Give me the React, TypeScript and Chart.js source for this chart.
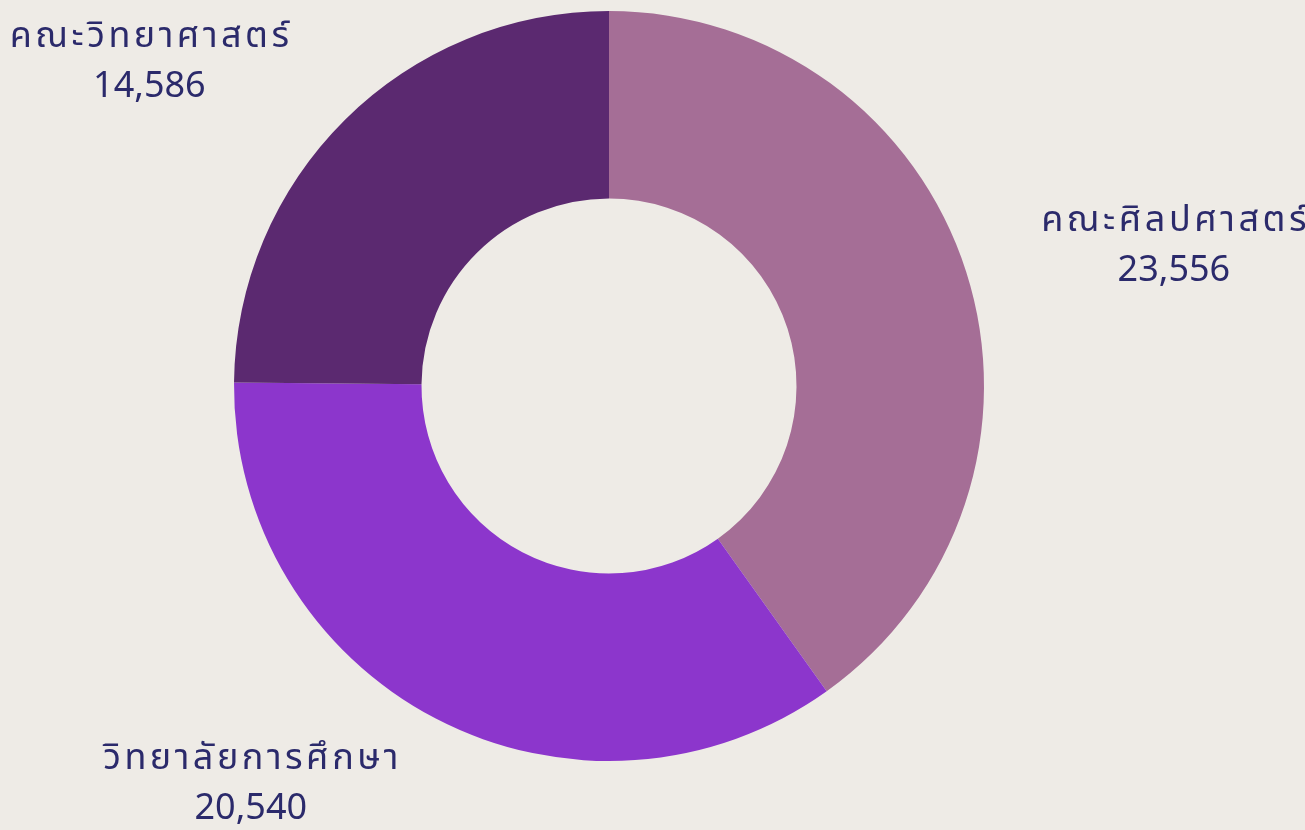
import React, { useEffect, useRef } from "react";
import { Chart, registerables } from "chart.js";

Chart.register(...registerables);

const categories = ["คณะศิลปศาสตร์", "วิทยาลัยการศึกษา", "คณะวิทยาศาสตร์"];
const values = [23556, 20540, 14586];
const colors = ["#A56E96", "#8C36CC", "#5B2970"];

const labelPlugin = {
  id: "outerLabels",
  afterDatasetsDraw(chart: any) {
    const { ctx } = chart;
    const meta = chart.getDatasetMeta(0);
    ctx.save();
    ctx.font = '36px "Noto Sans Thai", "Noto Sans", sans-serif';
    ctx.fillStyle = "#2B2A6B";
    ctx.textBaseline = "middle";
    ctx.textAlign = "center";
    meta.data.forEach((arc: any, i: number) => {
      const p = arc.getProps(["x", "y", "startAngle", "endAngle", "outerRadius"], true);
      const mid = (p.startAngle + p.endAngle) / 2;
      const d = p.outerRadius + 77;
      const ax = p.x + Math.cos(mid) * d;
      const ay = p.y + Math.sin(mid) * d;
      const l1 = categories[i];
      const l2 = values[i].toLocaleString("en-US");
      (ctx as any).letterSpacing = "3.5px";
      const w1 = ctx.measureText(l1).width;
      (ctx as any).letterSpacing = "0px";
      const w2 = ctx.measureText(l2).width;
      const w = Math.max(w1, w2);
      const cx = Math.cos(mid) >= 0 ? ax + w / 2 : ax - w / 2;
      (ctx as any).letterSpacing = "3.5px";
      ctx.fillText(l1, cx + 1.75, ay - 25);
      (ctx as any).letterSpacing = "0px";
      ctx.fillText(l2, cx, ay + 25);
    });
    ctx.restore();
  },
};

export default function App() {
  const ref = useRef<HTMLCanvasElement>(null);
  useEffect(() => {
    document.body.style.margin = "0";
    document.body.style.background = "#EEEBE6";
    const chart = new Chart(ref.current!, {
      type: "doughnut",
      data: {
        labels: categories,
        datasets: [
          {
            data: values,
            backgroundColor: colors,
            borderWidth: 0,
          },
        ],
      },
      options: {
        animation: false,
        responsive: false,
        cutout: "50%",
        layout: { padding: { left: 0, right: 87, top: 11, bottom: 69 } },
        plugins: { legend: { display: false }, tooltip: { enabled: false } },
      },
      plugins: [labelPlugin],
    });
    return () => chart.destroy();
  }, []);
  return (
    <div style={{ width: 1305, height: 830, background: "#EEEBE6" }}>
      <canvas ref={ref} width={1305} height={830} style={{ display: "block" }} />
    </div>
  );
}
